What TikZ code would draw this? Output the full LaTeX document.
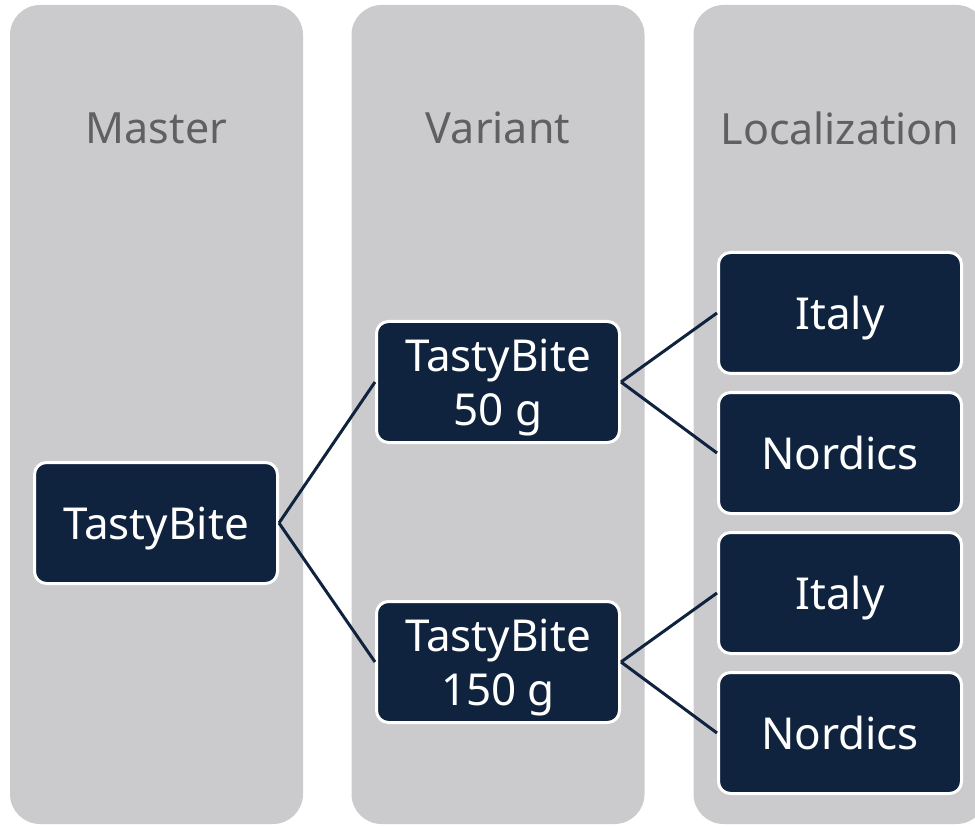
\documentclass[tikz,border=0pt]{standalone}
\usepackage{fontspec}
\setmainfont{Noto Sans}
\usetikzlibrary{positioning}
\definecolor{lane}{HTML}{CBCBCE}
\definecolor{navy}{HTML}{0F233E}
\definecolor{headgrey}{HTML}{606060}

\begin{document}
\begin{tikzpicture}[x=1pt,y=-1pt,
        lanebox/.style={rectangle,rounded corners=30pt,fill=lane,minimum width=293pt,minimum height=819pt,inner sep=0pt},
        lanehead/.style={text=headgrey,font=\fontsize{43}{50}\selectfont},
        item/.style={rectangle,rounded corners=12pt,fill=navy,draw=white,line width=3pt,minimum width=243pt,minimum height=121pt,text=white,align=center,font=\fontsize{44}{54}\selectfont,inner sep=0pt,text depth=0pt},
        link/.style={draw=navy,line width=3pt}]
        \useasboundingbox (0,0) rectangle (975,826);
        \clip (0,0) rectangle (975,826);
        % columns
        \node at (156.5,414.5)[lanebox] (masterlane) {};
        \node at (498,414.5)[lanebox] (variantlane) {};
        \node at (840,414.5)[lanebox] (locallane) {};
        \node at (156.5,128)[lanehead] (masterhead) {Master};
        \node at (498,128)[lanehead] (varianthead) {Variant};
        \node at (840,128)[lanehead] (localhead) {Localization};
        % boxes
        \node at (156,523)[item] (master) {TastyBite};
        \node at (498,382)[item] (small) {TastyBite\\50 g};
        \node at (498,662)[item] (large) {TastyBite\\150 g};
        \node at (840,313)[item] (smallit) {Italy};
        \node at (840,453)[item] (smallno) {Nordics};
        \node at (840,593)[item] (largeit) {Italy};
        \node at (840,733)[item] (largeno) {Nordics};
        % links
        \draw [link] (master.east) to (small.west);
        \draw [link] (master.east) to (large.west);
        \draw [link] (small.east) to (smallit.west);
        \draw [link] (small.east) to (smallno.west);
        \draw [link] (large.east) to (largeit.west);
        \draw [link] (large.east) to (largeno.west);
    \end{tikzpicture}
\end{document}
